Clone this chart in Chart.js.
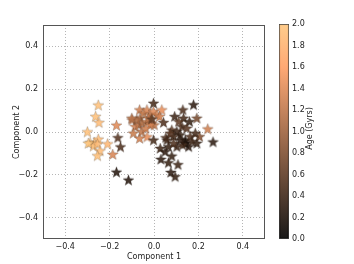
<!DOCTYPE html>
<html>
<head>
<meta charset="utf-8">
<script src="https://cdn.jsdelivr.net/npm/chart.js@4"></script>
<style>
  html, body { margin: 0; padding: 0; background: #fff; }
  #wrap { position: relative; width: 354px; height: 264px; }
  #main { position: absolute; left: 0; top: 0; }
  #cbar { position: absolute; left: 270px; top: 0; }
</style>
</head>
<body>
<div id="wrap">
  <canvas id="main" width="354" height="264"></canvas>
  <canvas id="cbar" width="84" height="264"></canvas>
</div>
<script>
// --- data ---
const compX = [
  -0.251, -0.263, -0.248, -0.300, -0.288, -0.269, -0.251, -0.273, -0.255, -0.243, -0.255, -0.209, -0.296,
  -0.169, -0.186, -0.163, -0.151, -0.169, -0.115,
  -0.099, -0.085, -0.065, -0.063, -0.047, -0.032, -0.017, -0.002, 0.013, 0.035, 0.025,
  -0.070, -0.055, -0.032, -0.010, 0.001, -0.093, -0.065, -0.031, -0.055, -0.077, -0.100,
  -0.017, -0.037, -0.025, -0.010, -0.002, 0.043, -0.002,
  0.178, 0.093, 0.130, 0.133, 0.160, 0.193, 0.205, 0.242, 0.266, 0.053, 0.080, 0.103,
  0.126, 0.148, 0.118, 0.088, 0.141, 0.156, 0.186, 0.193, 0.103, 0.065, 0.028, 0.050,
  0.080, 0.031, 0.065, 0.108, 0.076, 0.095, 0.141, 0.129, 0.163, 0.171, 0.118, 0.073,
  0.111, 0.088, 0.058
];
const compY = [
  0.125, 0.072, 0.044, 0.000, -0.050, -0.050, -0.034, -0.066, -0.056, -0.088, -0.111, -0.056, -0.053,
  0.031, -0.105, -0.027, -0.070, -0.188, -0.225,
  0.056, 0.025, 0.103, 0.064, 0.088, 0.103, 0.080, 0.095, 0.080, 0.103, 0.072,
  0.033, 0.041, 0.048, 0.041, 0.033, -0.006, -0.030, -0.023, 0.002, 0.056, 0.064,
  0.033, 0.017, 0.064, 0.060, 0.134, 0.044, -0.038,
  0.127, 0.072, 0.103, 0.064, 0.048, 0.064, -0.022, 0.014, -0.047, -0.027, 0.009, 0.002,
  0.025, 0.017, -0.014, -0.022, -0.038, -0.069, -0.006, -0.053, -0.069, -0.069, -0.077, -0.092,
  -0.113, -0.128, -0.144, -0.153, -0.189, -0.209, -0.053, -0.061, -0.022, -0.045, -0.038, -0.006,
  0.048, -0.053, -0.038
];
const ageGyr = [
  1.95, 1.95, 1.9, 1.95, 1.95, 1.95, 1.9, 1.95, 1.9, 1.9, 1.95, 1.85, 2.0,
  1.4, 1.35, 0.55, 0.5, 0.25, 0.25,
  1.2, 1.3, 1.3, 1.1, 1.25, 1.35, 1.3, 1.4, 1.35, 1.45, 1.3,
  1.2, 1.1, 1.25, 1.3, 1.2, 1.25, 1.3, 1.45, 1.2, 1.1, 1.15,
  1.35, 1.3, 1.2, 0.6, 0.45, 0.5, 0.45,
  0.3, 0.4, 0.5, 0.45, 0.35, 0.75, 0.8, 1.3, 0.3, 0.5, 0.6, 0.4,
  0.5, 0.55, 0.35, 0.45, 0.25, 0.3, 0.45, 0.35, 0.4, 0.35, 0.4, 0.3,
  0.35, 0.3, 0.35, 0.4, 0.3, 0.35, 0.2, 0.45, 0.5, 0.4, 0.3, 0.55,
  0.6, 0.5, 0.4
];
const axisTicks = [-0.4, -0.2, 0, 0.2, 0.4];
const ageRange = [0, 2];

// matplotlib "copper" colormap
function copper(t, a) {
  t = Math.max(0, Math.min(1, t));
  const r = Math.round(255 * Math.min(1, 1.25 * t));
  const g = Math.round(255 * 0.7812 * t);
  const b = Math.round(255 * 0.4975 * t);
  return `rgba(${r},${g},${b},${a})`;
}

// filled five-point star drawn on a small canvas, cached by colour
const starCache = {};
function starImage(color) {
  if (starCache[color]) return starCache[color];
  const c = document.createElement('canvas');
  c.width = 13; c.height = 13;
  const g = c.getContext('2d');
  const R = 5.8, r = 2.4, cx = 6.5, cy = 6.8;
  g.beginPath();
  for (let i = 0; i < 10; i++) {
    const ang = -Math.PI / 2 + i * Math.PI / 5;
    const rad = i % 2 ? r : R;
    g.lineTo(cx + rad * Math.cos(ang), cy + rad * Math.sin(ang));
  }
  g.closePath();
  g.fillStyle = color;
  g.fill();
  g.lineWidth = 0.5;
  g.strokeStyle = 'rgba(0,0,0,0.35)';
  g.stroke();
  starCache[color] = c;
  return c;
}

const FONT = { family: 'DejaVu Sans', size: 8 };
const fmt = v => (v < 0 ? '\u2212' : '') + Math.abs(v).toFixed(1);

const frame = {
  id: 'frame',
  afterDraw(chart) {
    const a = chart.chartArea, ctx = chart.ctx;
    ctx.save();
    ctx.strokeStyle = '#555';
    ctx.lineWidth = 1;
    ctx.strokeRect(a.left + 0.5, a.top + 0.5, a.right - a.left - 1, a.bottom - a.top - 1);
    ctx.restore();
  }
};

const points = compX.map((x, i) => ({ x: x, y: compY[i] }));

new Chart(document.getElementById('main'), {
  type: 'scatter',
  data: {
    datasets: [{
      data: points,
      pointStyle: ctx => starImage(copper(ageGyr[ctx.dataIndex] / ageRange[1], 0.88)),
      pointRadius: 6
    }]
  },
  options: {
    responsive: false,
    animation: false,
    layout: { padding: { left: 0, top: 25, right: 89, bottom: 0 } },
    plugins: { legend: { display: false }, tooltip: { enabled: false } },
    scales: {
      x: {
        min: -0.5, max: 0.5,
        afterBuildTicks: s => { s.ticks = axisTicks.map(v => ({ value: v })); },
        afterFit: s => { s.height = 25; },
        grid: { color: '#b5b5b5', drawTicks: false },
        border: { display: false, dash: [1, 2] },
        ticks: { font: FONT, color: '#222', padding: 3, callback: v => fmt(v), maxRotation: 0 },
        title: { display: true, text: 'Component 1', font: FONT, color: '#222', padding: { top: 0, bottom: 2 } }
      },
      y: {
        min: -0.5, max: 0.5,
        afterBuildTicks: s => { s.ticks = axisTicks.map(v => ({ value: v })); },
        afterFit: s => { s.width = 43; },
        grid: { color: '#b5b5b5', drawTicks: false },
        border: { display: false, dash: [1, 2] },
        ticks: { font: FONT, color: '#222', padding: 5, callback: v => fmt(v) },
        title: { display: true, text: 'Component 2', font: FONT, color: '#222', padding: { top: 12, bottom: 0 } }
      }
    }
  },
  plugins: [frame]
});

// colour bar
const barTitle = {
  id: 'barTitle',
  afterDraw(chart) {
    const ctx = chart.ctx, a = chart.chartArea;
    ctx.save();
    ctx.translate(40, (a.top + a.bottom) / 2 - 3);
    ctx.rotate(-Math.PI / 2);
    ctx.font = '8px "DejaVu Sans"';
    ctx.fillStyle = '#222';
    ctx.textAlign = 'center';
    ctx.textBaseline = 'middle';
    ctx.fillText('Age (Gyrs)', 0, 0);
    ctx.restore();
  }
};

new Chart(document.getElementById('cbar'), {
  type: 'bar',
  data: {
    labels: [''],
    datasets: [{
      data: [ageRange],
      backgroundColor: ctx => {
        const ch = ctx.chart, y = ch.scales.y;
        if (!y || !ch.chartArea) return '#000';
        const grad = ch.ctx.createLinearGradient(0, y.getPixelForValue(ageRange[0]), 0, y.getPixelForValue(ageRange[1]));
        grad.addColorStop(0, copper(0, 0.9));
        grad.addColorStop(0.8, copper(0.8, 0.9));
        grad.addColorStop(1, copper(1, 0.9));
        return grad;
      },
      borderColor: '#444',
      borderWidth: 1,
      borderSkipped: false,
      barPercentage: 1,
      categoryPercentage: 1
    }]
  },
  options: {
    responsive: false,
    animation: false,
    layout: { padding: { left: 9, top: 24, right: 0, bottom: 25 } },
    plugins: { legend: { display: false }, tooltip: { enabled: false } },
    scales: {
      x: { display: false },
      y: {
        position: 'right',
        min: ageRange[0], max: ageRange[1],
        afterFit: s => { s.width = 65; },
        grid: { display: false, drawTicks: false },
        border: { display: false },
        ticks: { stepSize: 0.2, font: FONT, color: '#222', padding: 3, callback: v => v.toFixed(1) }
      }
    }
  },
  plugins: [barTitle]
});
</script>
</body>
</html>
